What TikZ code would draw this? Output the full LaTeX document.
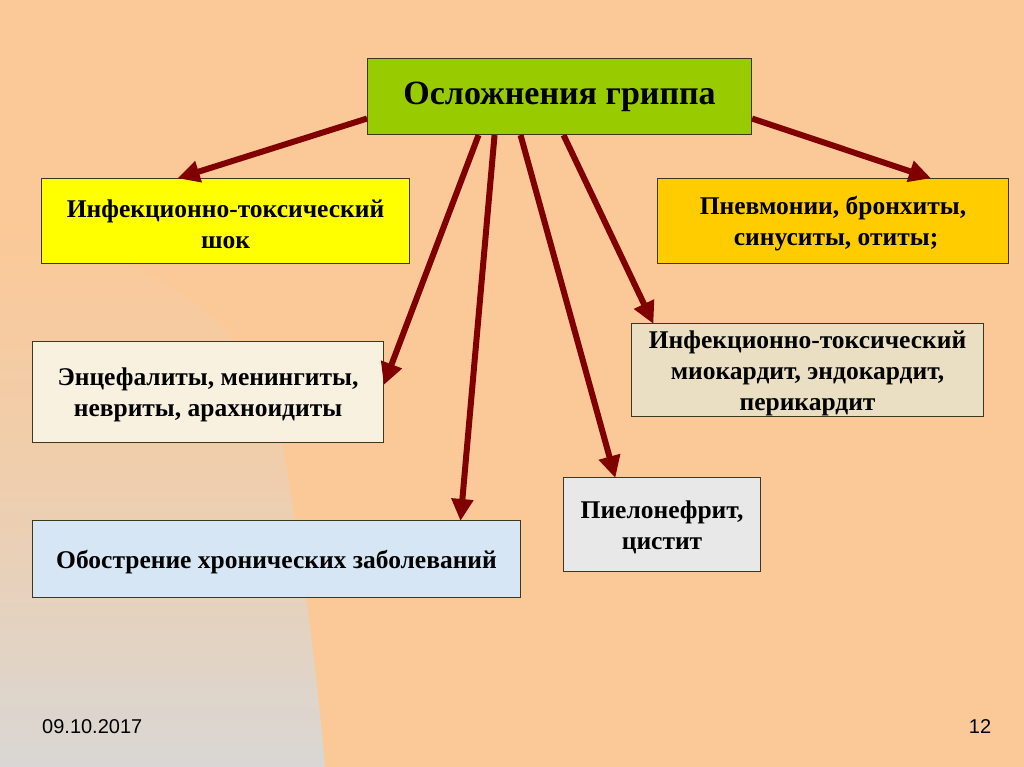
\documentclass[tikz,border=0pt]{standalone}
\usepackage{fontspec}
\setmainfont{Liberation Serif}
\newfontfamily\footfont{Liberation Sans}
\usetikzlibrary{arrows.meta,calc}
\definecolor{bgpeach}{RGB}{251,201,152}
\definecolor{bggray}{RGB}{217,215,212}
\definecolor{arrowred}{RGB}{128,0,0}
\definecolor{boxline}{RGB}{60,55,30}
\definecolor{titlegreen}{RGB}{153,204,0}
\definecolor{yel}{RGB}{255,255,0}
\definecolor{gold}{RGB}{255,204,0}
\definecolor{cream}{RGB}{248,241,224}
\definecolor{parch}{RGB}{234,223,195}
\definecolor{marble}{RGB}{232,232,232}
\definecolor{iceblue}{RGB}{214,230,244}
\newcommand\tstr{\rule{0pt}{23.5pt}}
\tikzset{
  x=1pt,y=-1pt,
  boxbase/.style={draw=boxline,line width=1.1pt,anchor=north west,inner sep=0pt,
    align=center},
  box/.style={boxbase,font=\bfseries\fontsize{25.5}{31}\selectfont},
  link/.style={draw=arrowred,line width=6pt,
    -{Triangle[length=22pt,width=21pt]},shorten >=-1pt}
}
\begin{document}
\begin{tikzpicture}
\useasboundingbox (0,0) rectangle (1024,767);
\fill[bgpeach] (0,0) rectangle (1024,767);
\shade[top color=bgpeach,bottom color=bggray,middle color=bggray!40!bgpeach]
  (0,230) .. controls (150,250) and (255,320) .. (282,440)
  .. controls (300,550) and (315,650) .. (325,767) -- (0,767) -- cycle;

\node[boxbase,fill=titlegreen,minimum width=384pt,minimum height=76pt,
  font=\bfseries\fontsize{34}{38}\selectfont] (title) at (367,58) {Осложнения гриппа};
\node[box,fill=yel,minimum width=368pt,minimum height=85pt] (b1) at (41,178)
  {\tstr Инфекционно-токсический\\шок};
\node[box,fill=gold,minimum width=351pt,minimum height=85pt] (b2) at (657,178)
  {\tstr Пневмонии, бронхиты,\\\hspace*{6pt}синуситы, отиты;};
\node[box,fill=cream,minimum width=351pt,minimum height=101pt] (b3) at (32,341)
  {\tstr Энцефалиты, менингиты,\\невриты, арахноидиты};
\node[box,fill=parch,minimum width=352pt,minimum height=93pt] (b4) at (631,323)
  {\tstr Инфекционно-токсический\\миокардит, эндокардит,\\перикардит};
\node[box,fill=marble,minimum width=197pt,minimum height=94pt] (b5) at (563,477)
  {\tstr Пиелонефрит,\\цистит};
\node[box,fill=iceblue,minimum width=488pt,minimum height=77pt] (b6) at (32,520)
  {\tstr Обострение хронических заболеваний};

\draw[link] ([yshift=-22pt]title.west) -- ([xshift=-47pt]b1.north);
\draw[link] ([yshift=-22pt]title.east) -- ([xshift=97pt]b2.north);
\draw[link] ([xshift=-81pt]title.south) -- ([yshift=8pt]b3.east);
\draw[link] ([xshift=-65pt]title.south) -- ([xshift=184pt]b6.north);
\draw[link] ([xshift=-39pt]title.south) -- ([xshift=-47pt]b5.north);
\draw[link] ([xshift=4pt]title.south) -- ([xshift=22pt]b4.north west);

\node[font=\footfont\fontsize{20}{22}\selectfont,anchor=west,inner sep=0pt] (date) at (42,727) {09.10.2017};
\node[font=\footfont\fontsize{20}{22}\selectfont,inner sep=0pt] (page) at (980,727) {12};
\end{tikzpicture}
\end{document}
